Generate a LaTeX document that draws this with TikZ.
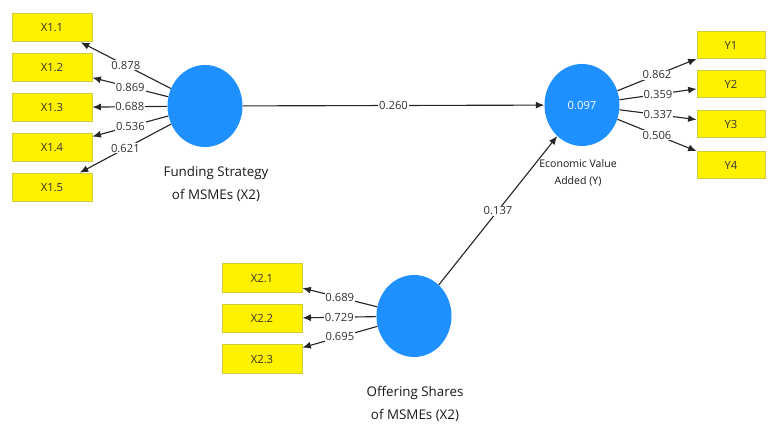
\documentclass[tikz,border=0pt]{standalone}
\usepackage{fontspec}
\setmainfont{Open Sans}
\usetikzlibrary{arrows.meta,shapes.geometric}

\definecolor{latblue}{RGB}{30,144,255}
\definecolor{boxline}{RGB}{205,205,60}

\tikzset{
  ind/.style={draw=boxline, fill=yellow, line width=0.6pt, minimum width=2cm,
    minimum height=0.72cm, inner sep=0pt, text=black!80, font=\fontsize{8}{9}\selectfont},
  lat/.style={ellipse, fill=latblue, minimum width=1.875cm, minimum height=2.05cm, inner sep=0pt},
  load/.style={-{Latex[length=6pt,width=5pt]}, draw=black!85, line width=0.8pt},
  val/.style={fill=white, inner sep=0.6pt, text=black!80, font=\fontsize{8}{9}\selectfont},
  latcap/.style={align=center, text=black!90, font=\fontsize{9.5}{16}\selectfont},
}

\begin{document}
\begin{tikzpicture}[x=0.025cm, y=-0.025cm]
    \useasboundingbox (0,0) rectangle (768,423);
    % latent variables
    \node[lat] (fs) at (205,106) {};
    \node[lat] (os) at (414,316) {};
    \node[lat, text=white, font=\fontsize{8}{9}\selectfont] (eva) at (582,105) {0.097};
    \node[latcap] (fscap) at (216,184) {Funding Strategy\\of MSMEs (X2)};
    \node[latcap] (oscap) at (415,404) {Offering Shares\\of MSMEs (X2)};
    \node[latcap, font=\fontsize{7.5}{12}\selectfont] (evacap) at (578,173) {Economic Value\\Added (Y)};
    % indicators
    \foreach \i/\y in {1/27.5,2/67.5,3/107.5,4/147.5,5/187.5}
    \node[ind] (x1\i) at (52,\y) {X1.\i};
    \foreach \i/\y in {1/278,2/318.5,3/359}
    \node[ind] (x2\i) at (262,\y) {X2.\i};
    \foreach \i/\y in {1/45,2/84,3/124,4/165}
    \node[ind, minimum width=1.7cm, minimum height=0.68cm] (y\i) at (731,\y) {Y\i};
    % loadings
    \foreach \i/\v in {1/0.878,2/0.869,3/0.688,4/0.536,5/0.621}
    \draw[load] (fs) -- node[val] {\v} (x1\i);
    \foreach \i/\v in {1/0.689,2/0.729,3/0.695}
    \draw[load] (os) -- node[val] {\v} (x2\i);
    \foreach \i/\v in {1/0.862,2/0.359,3/0.337,4/0.506}
    \draw[load] (eva) -- node[val] {\v} (y\i);
    % paths
    \draw[load] (fs) -- node[val] {0.260} (eva);
    \draw[load] (os) -- node[val] {0.137} (eva);
\end{tikzpicture}
\end{document}
